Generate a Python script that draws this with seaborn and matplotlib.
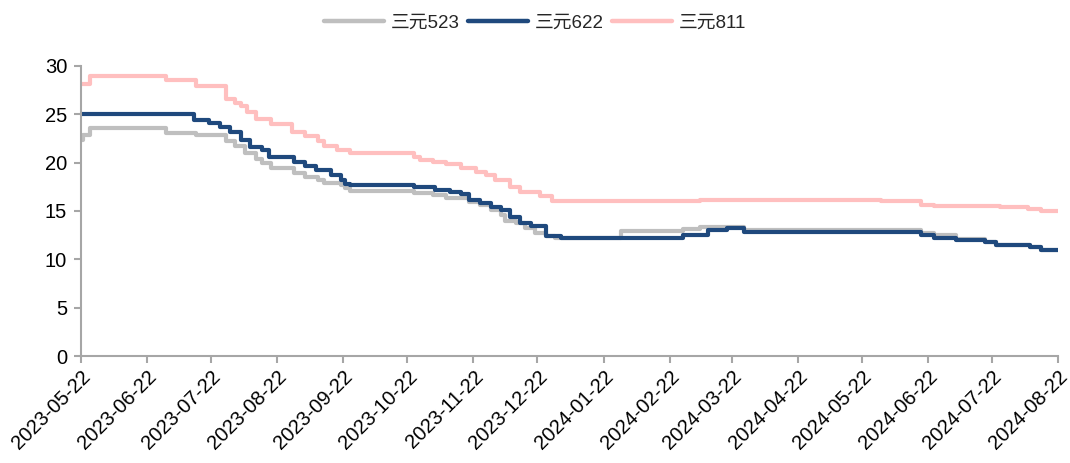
import matplotlib
matplotlib.use("Agg")
import matplotlib.pyplot as plt
import matplotlib.dates as mdates
import pandas as pd
import seaborn as sns

# step change points (value holds until next date)
dates_523 = ["2023-05-22", "2023-05-23", "2023-05-26", "2023-07-01", "2023-07-15",
             "2023-07-29", "2023-08-02", "2023-08-07", "2023-08-12", "2023-08-15",
             "2023-08-19", "2023-08-30", "2023-09-04", "2023-09-10", "2023-09-13",
             "2023-09-21", "2023-09-23", "2023-09-25", "2023-10-25", "2023-11-03",
             "2023-11-09", "2023-11-20", "2023-11-25", "2023-11-30", "2023-12-05",
             "2023-12-07", "2023-12-12", "2023-12-16", "2023-12-21", "2023-12-26",
             "2023-12-30", "2024-01-30", "2024-02-28", "2024-03-07", "2024-03-28",
             "2024-06-19", "2024-06-25", "2024-07-05", "2024-07-19", "2024-07-24",
             "2024-08-09", "2024-08-14", "2024-08-22"]
vals_523 = [22.3, 22.8, 23.6, 23.1, 22.8,
            22.2, 21.7, 21.0, 20.4, 19.9,
            19.4, 18.9, 18.5, 18.2, 17.9,
            17.7, 17.4, 17.1, 16.8, 16.6,
            16.3, 15.95, 15.6, 15.1, 14.6,
            14.0, 13.7, 13.2, 12.7, 12.4,
            12.2, 12.9, 13.1, 13.3, 13.0,
            12.7, 12.5, 12.1, 11.8, 11.5,
            11.3, 11.0, 11.0]

dates_622 = ["2023-05-22", "2023-07-14", "2023-07-21", "2023-07-26", "2023-07-31",
             "2023-08-05", "2023-08-09", "2023-08-15", "2023-08-18", "2023-08-30",
             "2023-09-04", "2023-09-09", "2023-09-16", "2023-09-21", "2023-09-23",
             "2023-09-25", "2023-10-25", "2023-11-04", "2023-11-11", "2023-11-16",
             "2023-11-20", "2023-11-25", "2023-11-30", "2023-12-05", "2023-12-09",
             "2023-12-14", "2023-12-19", "2023-12-26", "2024-01-02", "2024-02-28",
             "2024-03-11", "2024-03-20", "2024-03-28", "2024-06-19", "2024-06-25",
             "2024-07-05", "2024-07-19", "2024-07-24", "2024-08-09", "2024-08-14",
             "2024-08-22"]
vals_622 = [25.0, 24.4, 24.1, 23.7, 23.2,
            22.3, 21.6, 21.3, 20.6, 20.1,
            19.6, 19.2, 18.7, 18.2, 17.8,
            17.7, 17.5, 17.2, 17.0, 16.7,
            16.1, 15.8, 15.4, 15.1, 14.4,
            13.7, 13.4, 12.4, 12.25, 12.5,
            13.0, 13.2, 12.85, 12.5, 12.2,
            12.0, 11.8, 11.5, 11.3, 11.0,
            11.0]

dates_811 = ["2023-05-22", "2023-05-26", "2023-07-01", "2023-07-15", "2023-07-29",
             "2023-08-02", "2023-08-05", "2023-08-08", "2023-08-12", "2023-08-19",
             "2023-08-29", "2023-09-04", "2023-09-10", "2023-09-13", "2023-09-19",
             "2023-09-25", "2023-10-25", "2023-10-28", "2023-11-03", "2023-11-09",
             "2023-11-16", "2023-11-23", "2023-11-28", "2023-12-02", "2023-12-09",
             "2023-12-14", "2023-12-23", "2023-12-29", "2024-03-07", "2024-05-31",
             "2024-06-19", "2024-06-25", "2024-07-26", "2024-08-08", "2024-08-14",
             "2024-08-22"]
vals_811 = [28.1, 28.9, 28.5, 27.9, 26.6,
            26.2, 25.8, 25.2, 24.5, 24.0,
            23.2, 22.7, 22.2, 21.7, 21.3,
            21.0, 20.6, 20.3, 20.1, 19.8,
            19.4, 19.0, 18.7, 18.2, 17.5,
            17.0, 16.5, 16.0, 16.1, 16.0,
            15.6, 15.5, 15.4, 15.2, 15.0,
            15.0]

series_names = ["三元523", "三元622", "三元811"]
series_colors = ["#BFBFBF", "#1F497D", "#FFBFBF"]

tick_dates = ["2023-05-22", "2023-06-22", "2023-07-22", "2023-08-22", "2023-09-22",
              "2023-10-22", "2023-11-22", "2023-12-22", "2024-01-22", "2024-02-22",
              "2024-03-22", "2024-04-22", "2024-05-22", "2024-06-22", "2024-07-22",
              "2024-08-22"]

frames = []
for name, d, v in zip(series_names, [dates_523, dates_622, dates_811],
                      [vals_523, vals_622, vals_811]):
    frames.append(pd.DataFrame({"date": pd.to_datetime(d), "price": v, "series": name}))
df = pd.concat(frames, ignore_index=True)

sns.set_style("white")
plt.rcParams["font.family"] = ["Liberation Sans", "Noto Sans CJK SC"]

fig = plt.figure(figsize=(10.7, 4.63), dpi=100)
ax = fig.add_axes([0.0757, 0.231, 0.913, 0.627])

sns.lineplot(data=df, x="date", y="price", hue="series", hue_order=series_names,
             palette=series_colors, drawstyle="steps-post", linewidth=3.0,
             estimator=None, ax=ax, legend=False)

ax.set_xlim(pd.Timestamp(tick_dates[0]), pd.Timestamp(tick_dates[-1]))
ax.set_ylim(0, 30)
ax.set_yticks(range(0, 31, 5))
ax.set_xticks(pd.to_datetime(tick_dates))
ax.xaxis.set_major_formatter(mdates.DateFormatter("%Y-%m-%d"))
ax.set_xlabel("")
ax.set_ylabel("")

for side in ["top", "right"]:
    ax.spines[side].set_visible(False)
for side in ["left", "bottom"]:
    ax.spines[side].set_color("#A6A6A6")
    ax.spines[side].set_linewidth(1.5)

ax.tick_params(axis="both", which="major", direction="out", length=5, width=1.5,
               color="#A6A6A6", labelsize=14.5, labelcolor="#000000", bottom=True, left=True)
ax.tick_params(axis="y", pad=5)
ax.tick_params(axis="x", pad=3)
plt.setp(ax.get_xticklabels(), rotation=45, ha="right", rotation_mode="anchor")

handles = [plt.Line2D([], [], color=c, linewidth=3.2) for c in series_colors]
fig.legend(handles, series_names, loc="center", bbox_to_anchor=(0.5, 0.95), ncol=3,
           frameon=False, fontsize=13.5, handlelength=3.2, handletextpad=0.4,
           columnspacing=0.4)

fig.savefig("out.png", dpi=100)
